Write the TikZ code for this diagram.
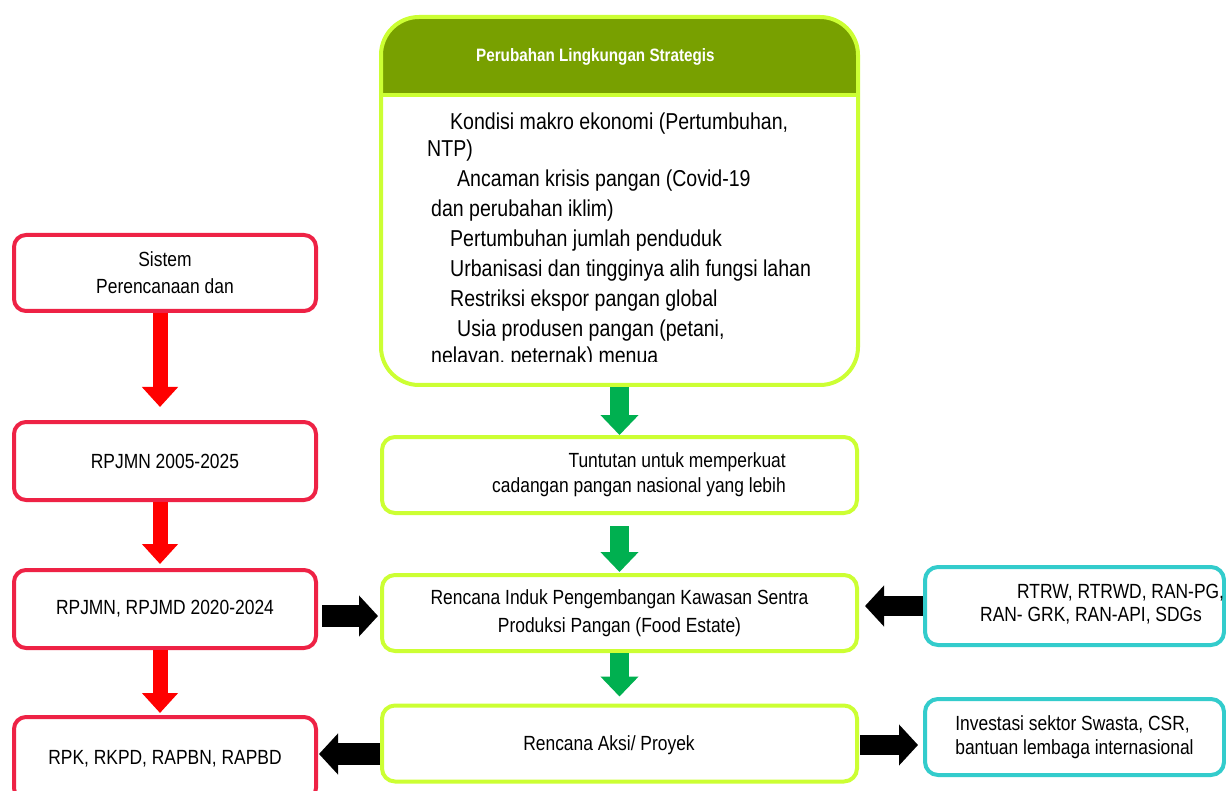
\documentclass[tikz,border=0pt]{standalone}
\usepackage{fontspec}
\setmainfont{Liberation Sans}[FakeStretch=0.85]
\usetikzlibrary{arrows.meta}

\definecolor{boxred}{HTML}{EE2245}
\definecolor{arrred}{HTML}{FF0000}
\definecolor{lime}{HTML}{CCFF33}
\definecolor{arrgreen}{HTML}{00B050}
\definecolor{hdrgreen}{HTML}{78A000}
\definecolor{tealline}{HTML}{33CCCC}

\newcommand{\setfs}[1]{\fontsize{20.5}{#1}\selectfont}

\tikzset{
	redbox/.style={draw=boxred, line width=4pt, rounded corners=12pt, minimum width=302pt, align=center, inner sep=0pt},
	limebox/.style={draw=lime, line width=4pt, rounded corners=13pt, minimum width=475pt, minimum height=76pt, inner sep=0pt},
	tealbox/.style={draw=tealline, line width=4pt, rounded corners=13pt, minimum width=299pt, inner sep=0pt},
	redarrow/.style={draw=arrred, line width=15pt, -{Triangle[width=35pt,length=20pt]}},
	greenarrow/.style={draw=arrgreen, line width=19pt, -{Triangle[width=37pt,length=20pt]}},
	blackarrow/.style={draw=black, line width=#1, -{Triangle[width=40pt,length=19pt]}},
}

\begin{document}
\begin{tikzpicture}[x=1pt, y=-1pt]
	\fill[white] (0,0) rectangle (1226,791);
	\useasboundingbox (0,0) rectangle (1226,791);

	% planning documents on the left
	\node[redbox, minimum height=76pt, font=\setfs{27}] (sis) at (165,273) {Sistem\\Perencanaan dan};
	\node[redbox, minimum height=78pt, font=\setfs{25}] (rpjmn) at (165,461) {RPJMN 2005-2025};
	\node[redbox, minimum height=78pt, font=\setfs{25}] (rpjmd) at (165,609) {RPJMN, RPJMD 2020-2024};
	\node[redbox, minimum height=83pt, font=\setfs{25}] (rpk) at (165,758.5) {RPK, RKPD, RAPBN, RAPBD};

	% strategic environment box with its header
	\node[draw=lime, line width=4pt, rounded corners=38pt, minimum width=477pt, minimum height=368pt,
		path picture={
			\fill[hdrgreen, sharp corners] (path picture bounding box.north west) rectangle ([yshift=-78pt]path picture bounding box.north east);
			\draw[lime, line width=4pt, sharp corners] ([yshift=-78pt]path picture bounding box.north west) -- ([yshift=-78pt]path picture bounding box.north east);
		}] (pls) at (619.5,201) {};
	\node[anchor=base west, inner sep=0pt, text=white, font=\bfseries\fontsize{17.9}{20}\selectfont] (plshdr) at (476,62) {Perubahan Lingkungan Strategis};
	\begin{scope}
		\clip (380,15) rectangle (860,362);
		\foreach \x/\y/\t [count=\i] in {
			450/130/{Kondisi makro ekonomi (Pertumbuhan,},
			427/157/{NTP)},
			457/187/{Ancaman krisis pangan (Covid-19},
			431/217/{dan perubahan iklim)},
			450/247/{Pertumbuhan jumlah penduduk},
			450/277/{Urbanisasi dan tingginya alih fungsi lahan},
			450/307/{Restriksi ekspor pangan global},
			457/337/{Usia produsen pangan (petani,},
			431/364/{nelayan, peternak) menua}}
			\node[anchor=base west, inner sep=0pt, font=\fontsize{23}{28}\selectfont] (pl\i) at (\x,\y) {\t};
	\end{scope}

	% middle column
	\node[limebox] (tunt) at (619.5,475) {};
	\node[anchor=east, inner sep=0pt, align=right, font=\setfs{25}] (tuntlbl) at (786,475) {Tuntutan untuk memperkuat\\cadangan pangan nasional yang lebih};
	\node[limebox, align=center, font=\setfs{28}] (induk) at (619.5,613) {Rencana Induk Pengembangan Kawasan Sentra\\Produksi Pangan (Food Estate)};
	\node[limebox] (aksi) at (619.5,743.5) {};
	\node[inner sep=0pt, font=\setfs{25}] (aksilbl) at (609,745) {Rencana Aksi/ Proyek};

	% right column
	\node[tealbox, minimum height=78pt] (rtrw) at (1074.5,606) {};
	\node[anchor=west, inner sep=0pt, align=left, font=\setfs{23}] (rtrwlbl) at (980,604) {\hspace*{37pt}RTRW, RTRWD, RAN-PG,\\RAN- GRK, RAN-API, SDGs};
	\node[tealbox, minimum height=76pt, align=left, font=\setfs{24}] (inv) at (1074.5,737) {Investasi sektor Swasta, CSR,\\bantuan lembaga internasional};

	% red arrows
	\draw[redarrow, shorten >=13pt] ([xshift=-5pt]sis.south) -- ([xshift=-5pt]rpjmn.north);
	\draw[redarrow, shorten >=4pt] ([xshift=-5pt]rpjmn.south) -- ([xshift=-5pt]rpjmd.north);
	\draw[redarrow, shorten >=2pt] ([xshift=-5pt]rpjmd.south) -- ([xshift=-5pt]rpk.north);

	% green arrows
	\draw[greenarrow] (pls.south) -- (tunt.north);
	\draw[greenarrow, shorten <=11pt, shorten >=1pt] (tunt.south) -- (induk.north);
	\draw[greenarrow, shorten >=7pt] (induk.south) -- (aksi.north);

	% black arrows
	\draw[blackarrow=22pt, shorten <=4pt, shorten >=2pt] ([yshift=-7pt]rpjmd.east) -- ([yshift=-7pt]rpjmd.east -| induk.west);
	\draw[blackarrow=22pt, shorten >=1pt] ([yshift=-10.5pt]aksi.west) -- ([yshift=-10.5pt]aksi.west -| rpk.east);
	\draw[blackarrow=20pt, shorten >=6pt] (rtrw.west) -- (rtrw.west -| induk.east);
	\draw[blackarrow=20pt, shorten <=1pt, shorten >=5pt] ([yshift=-1.5pt]aksi.east) -- ([yshift=-1.5pt]aksi.east -| inv.west);
\end{tikzpicture}
\end{document}
